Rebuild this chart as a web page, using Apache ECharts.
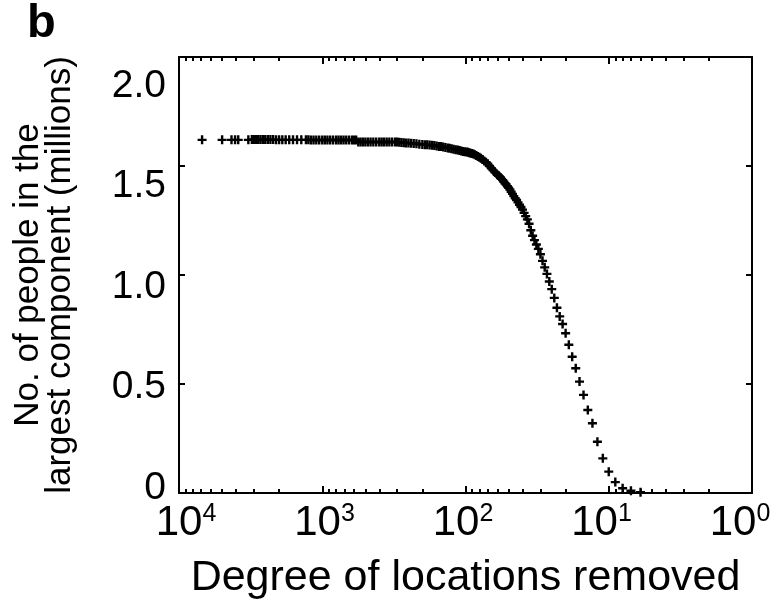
<!DOCTYPE html>
<html>
<head>
<meta charset="utf-8">
<script src="https://cdn.jsdelivr.net/npm/echarts@6/dist/echarts.min.js"></script>
<style>
  html, body { margin: 0; padding: 0; background: #fff; }
  #chart { width: 773px; height: 601px; }
</style>
</head>
<body>
<div id="chart"></div>
<script>
// Degree threshold of removed locations and the size of the largest
// connected component (millions of people) that remains.
const removedDegree = [
  6900, 5000, 4300, 4060, 3860, 3280,
  3100, 3000, 2900, 2800, 2700, 2600, 2500, 2400, 2300, 2200,
  2100, 2000, 1900, 1800, 1700, 1600, 1500, 1400, 1300, 1250,
  1200, 1150, 1100, 1050, 1000, 960, 920, 880, 840, 800,
  770, 740, 710, 680, 650, 620, 600, 580,
  560, 540, 520, 500, 480, 460, 440, 420, 400, 385,
  370, 355, 340, 325, 310, 300, 290, 280, 270, 260,
  250, 240, 230, 220, 210, 200,
  192, 185, 178, 171, 165, 159, 153, 148, 143, 138,
  133, 129, 125, 121, 117, 113, 110, 107, 104, 101,
  98, 96, 94, 92, 90, 88, 86, 84, 82, 80,
  78, 76, 74, 72, 70, 68, 66, 64, 62,
  60, 59, 58, 57, 56, 55, 54, 53, 52, 51,
  50, 49, 48, 47, 46, 45, 44, 43, 42, 41,
  40, 39, 38, 37, 36, 35, 34, 33, 32, 31,
  30, 29, 28, 27, 26, 25, 24, 23, 22, 21,
  20, 19, 18, 17, 16, 15, 14, 13, 12, 11,
  10, 9, 8, 7, 6
];
const componentMillions = [
  1.62, 1.62, 1.62, 1.62, 1.62, 1.62,
  1.621, 1.621, 1.621, 1.621, 1.621, 1.621, 1.621, 1.621, 1.621, 1.621,
  1.62, 1.62, 1.62, 1.62, 1.62, 1.62, 1.62, 1.62, 1.62, 1.62,
  1.619, 1.619, 1.619, 1.619, 1.619, 1.619, 1.619, 1.619, 1.619, 1.619,
  1.619, 1.619, 1.619, 1.619, 1.619, 1.619, 1.619, 1.619,
  1.61, 1.61, 1.61, 1.61, 1.61, 1.61, 1.61, 1.61, 1.61, 1.61,
  1.61, 1.61, 1.61, 1.61, 1.61, 1.61, 1.609, 1.608, 1.607, 1.606,
  1.605, 1.604, 1.603, 1.602, 1.600, 1.599,
  1.598, 1.597, 1.596, 1.595, 1.594, 1.592, 1.590, 1.589, 1.587, 1.585,
  1.583, 1.581, 1.579, 1.577, 1.575, 1.573, 1.571, 1.569, 1.567, 1.565,
  1.564, 1.563, 1.561, 1.559, 1.557, 1.555, 1.552, 1.548, 1.544, 1.54,
  1.535, 1.53, 1.523, 1.517, 1.51, 1.50, 1.49, 1.48, 1.47,
  1.46, 1.456, 1.452, 1.447, 1.441, 1.435, 1.428, 1.421, 1.415, 1.407,
  1.40, 1.392, 1.382, 1.372, 1.362, 1.352, 1.344, 1.333, 1.322, 1.312,
  1.30, 1.285, 1.27, 1.255, 1.235, 1.205, 1.18, 1.16, 1.14, 1.12,
  1.095, 1.065, 1.035, 1.005, 0.97, 0.935, 0.895, 0.85, 0.81, 0.775,
  0.733, 0.68, 0.625, 0.572, 0.511, 0.45, 0.381, 0.32, 0.235, 0.159,
  0.098, 0.05, 0.022, 0.01, 0.004
];

const yTickLabels = ['0', '0.5', '1.0', '1.5', '2.0'];
const panelLetter = 'b';
const xTitle = 'Degree of locations removed';
const yTitleLines = ['No. of people in the', 'largest component (millions)'];

const FONT = "'Liberation Sans', Arial, Helvetica, sans-serif";
const BLACK = '#000';

const chart = echarts.init(document.getElementById('chart'));

const frameLine = { show: true, onZero: false, lineStyle: { color: BLACK, width: 2 } };
const inwardTicks = (len) => ({ show: true, inside: true, length: len, lineStyle: { color: BLACK, width: 2 } });
const logMinorTicks = { show: true, splitNumber: 9, length: 4, lineStyle: { color: BLACK, width: 2 } };

// "+" marker drawn as two crossing bars
const plusSymbol = 'path://M0,3.3H9V5.7H0Z M3.3,0H5.7V9H3.3Z';

const logFrameAxis = (position) => ({
  gridIndex: 0,
  type: 'log',
  logBase: 10,
  min: 1,
  max: 10000,
  inverse: true,
  position: position,
  axisLine: frameLine,
  axisTick: inwardTicks(7),
  minorTick: logMinorTicks,
  axisLabel: { show: false },
  splitLine: { show: false },
  minorSplitLine: { show: false }
});

const valueFrameAxis = (position) => ({
  gridIndex: 0,
  type: 'value',
  min: 0,
  max: 2,
  interval: 0.5,
  position: position,
  axisLine: frameLine,
  axisTick: inwardTicks(6),
  axisLabel: { show: false },
  splitLine: { show: false }
});

const bottomAxis = Object.assign(logFrameAxis('bottom'), {
  name: xTitle,
  nameLocation: 'middle',
  nameGap: 85,
  nameTextStyle: { fontFamily: FONT, fontSize: 43, color: BLACK, verticalAlign: 'middle' }
});

const leftAxis = Object.assign(valueFrameAxis('left'), {
  name: yTitleLines.join('\n'),
  nameLocation: 'middle',
  nameRotate: 90,
  nameGap: 135,
  nameTextStyle: {
    fontFamily: FONT, fontSize: 35, lineHeight: 32, color: BLACK,
    align: 'center', verticalAlign: 'middle'
  }
});

chart.setOption({
  animation: false,
  backgroundColor: '#fff',
  title: {
    text: panelLetter,
    left: 22,
    top: -4,
    textStyle: { fontFamily: FONT, fontSize: 47, fontWeight: 'bold', color: BLACK }
  },
  grid: [
    // plotting frame
    { left: 179, right: 21, top: 57, bottom: 108, outerBoundsMode: 'none' },
    // tick-label placement
    { left: 179, right: 40, top: 86, bottom: 113, outerBoundsMode: 'none' }
  ],
  xAxis: [
    bottomAxis,
    logFrameAxis('top'),
    {
      gridIndex: 1,
      type: 'log',
      logBase: 10,
      min: 1,
      max: 10000,
      inverse: true,
      position: 'bottom',
      axisLine: { show: false },
      axisTick: { show: false },
      splitLine: { show: false },
      axisLabel: {
        margin: 14,
        color: BLACK,
        fontFamily: FONT,
        formatter: (v) => '{p|}{b|10}{s|' + Math.round(Math.log10(v)) + '}',
        rich: {
          p: { width: 14 },
          b: { fontFamily: FONT, fontSize: 42, lineHeight: 42, color: BLACK },
          s: { fontFamily: FONT, fontSize: 25, lineHeight: 25, verticalAlign: 'top', color: BLACK }
        }
      }
    }
  ],
  yAxis: [
    leftAxis,
    valueFrameAxis('right'),
    {
      gridIndex: 1,
      type: 'value',
      min: 0,
      max: 2,
      interval: 0.5,
      position: 'left',
      axisLine: { show: false },
      axisTick: { show: false },
      splitLine: { show: false },
      axisLabel: {
        margin: 13,
        fontFamily: FONT,
        fontSize: 39,
        color: BLACK,
        formatter: (v) => yTickLabels[Math.round(v / 0.5)]
      }
    }
  ],
  series: [
    {
      type: 'scatter',
      xAxisIndex: 0,
      yAxisIndex: 0,
      symbol: plusSymbol,
      symbolSize: 9,
      itemStyle: { color: BLACK, opacity: 1 },
      data: removedDegree.map((d, i) => [d, componentMillions[i]])
    }
  ]
});
</script>
</body>
</html>
